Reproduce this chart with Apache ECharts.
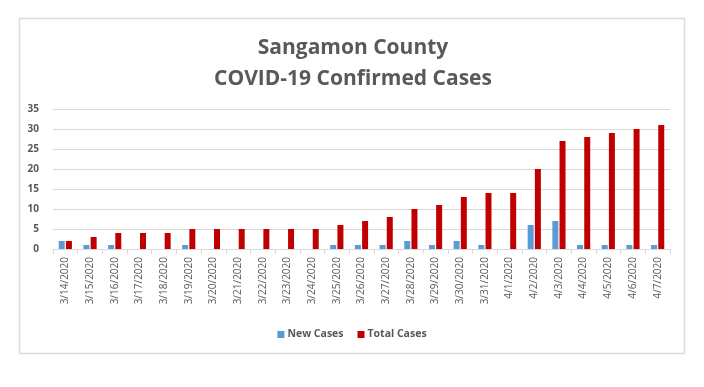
<!DOCTYPE html>
<html><head><meta charset="utf-8">
<script src="https://cdn.jsdelivr.net/npm/echarts@6/dist/echarts.min.js"></script>
<style>html,body{margin:0;padding:0;background:#fff}#c{width:704px;height:387px}</style>
</head><body><div id="c"></div>
<script>
const categories = ['3/14/2020','3/15/2020','3/16/2020','3/17/2020','3/18/2020','3/19/2020','3/20/2020','3/21/2020','3/22/2020','3/23/2020','3/24/2020','3/25/2020','3/26/2020','3/27/2020','3/28/2020','3/29/2020','3/30/2020','3/31/2020','4/1/2020','4/2/2020','4/3/2020','4/4/2020','4/5/2020','4/6/2020','4/7/2020'];
const newCases = [2,1,1,0,0,1,0,0,0,0,0,1,1,1,2,1,2,1,0,6,7,1,1,1,1];
const totalCases = [2,3,4,4,4,5,5,5,5,5,5,6,7,8,10,11,13,14,14,20,27,28,29,30,31];
const yTicks = [0,5,10,15,20,25,30,35];

const chart = echarts.init(document.getElementById('c'));
const font = 'Open Sans, Liberation Sans, sans-serif';
chart.setOption({
  animation: false,
  graphic: [{type:'rect', shape:{x:19.5,y:18.5,width:665,height:335}, style:{fill:'none', stroke:'#dcdcdc', lineWidth:1.5}}],
  title: {
    text: 'Sangamon County\nCOVID-19 Confirmed Cases',
    left: 348, textAlign: 'center', top: 28,
    textStyle: {fontFamily: font, fontSize: 21, fontWeight: 'bold', color: '#595959', lineHeight: 31}
  },
  legend: {
    data: ['New Cases','Total Cases'], bottom: 42, left: 'center',
    itemWidth: 7, itemHeight: 7, itemGap: 14, icon: 'rect',
    textStyle: {fontFamily: font, fontSize: 10.5, color: '#595959', fontWeight: 'bold', padding:[0,0,0,-2]}
  },
  grid: {left: 53, right: 34, top: 109, bottom: 138, containLabel: false},
  xAxis: {
    type: 'category', data: categories,
    axisLine: {lineStyle: {color: '#d9d9d9'}},
    axisTick: {show: true, alignWithLabel: false, length: 5, lineStyle: {color: '#d9d9d9'}},
    axisLabel: {rotate: 90, interval: 0, fontFamily: font, fontSize: 10, color: '#595959', margin: 8}
  },
  yAxis: {
    type: 'value', min: 0, max: 35, interval: 5,
    axisLine: {show: false}, axisTick: {show: false},
    splitLine: {lineStyle: {color: '#d9d9d9'}},
    axisLabel: {fontFamily: font, fontSize: 10, color: '#595959', fontWeight: 'bold', margin: 14,
      formatter: v => yTicks.includes(v) ? String(v) : ''}
  },
  series: [
    {name: 'New Cases', type: 'bar', data: newCases, barWidth: 6, barGap: '20%', itemStyle: {color: '#5b9bd5'}},
    {name: 'Total Cases', type: 'bar', data: totalCases, barWidth: 6, itemStyle: {color: '#c00000'}}
  ]
});
</script></body></html>
